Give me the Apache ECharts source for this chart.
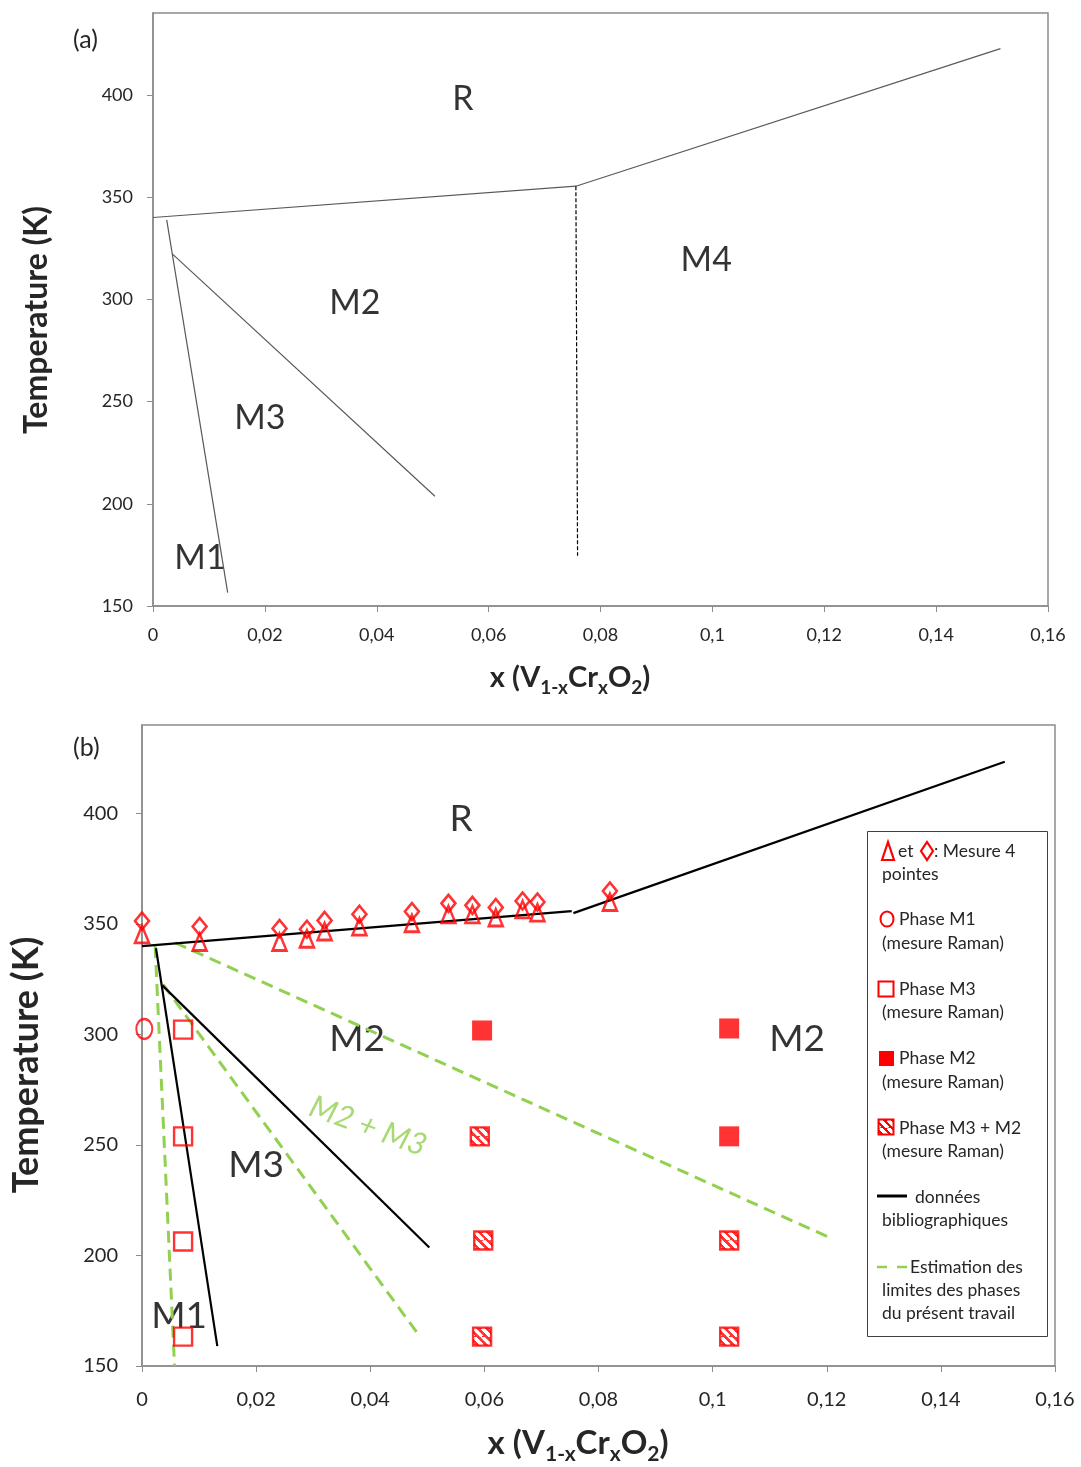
<!DOCTYPE html>
<html><head><meta charset="utf-8">
<script src="https://cdn.jsdelivr.net/npm/echarts@6/dist/echarts.min.js"></script>
<style>html,body{margin:0;padding:0;background:#fff}#c{width:1081px;height:1467px}</style>
</head><body><div id="c"></div>
<script>
// ---------------- data ----------------
const yTickValues = [150, 200, 250, 300, 350, 400];
const xTickStep = 0.02;

// Panel (a): literature phase boundaries
const aUpper = [[0, 340], [0.0756, 355.3], [0.1515, 422.6]];
const aM1M3 = [[0.00245, 338.8], [0.01335, 156.5]];
const aM3M2 = [[0.00345, 322.2], [0.0504, 203.7]];
const aM2M4 = [[0.0756, 355.3], [0.0759, 174.6]];

// Panel (b): literature boundaries
const bUpperLow = [[0, 340], [0.0753, 355.8]];
const bUpperHigh = [[0.0756, 354.9], [0.1512, 423.4]];
const bM1M3 = [[0.00245, 339], [0.0132, 159]];
const bM3M2 = [[0.00356, 322.2], [0.05035, 203.6]];
// Panel (b): phase limits estimated in this work
const estM1 = [[0.0023, 340], [0.0057, 150]];
const estM3 = [[0.0037, 322.6], [0.0487, 163.3]];
const estM2 = [[0.0058, 341.5], [0.1211, 207.4]];

// Panel (b): 4-point measurements
const fourPtX = [0, 0.0101, 0.0241, 0.0289, 0.0320, 0.0381, 0.0473, 0.0537, 0.0579, 0.0620, 0.0667, 0.0693, 0.0820];
const fourPtTriangle = [345.3, 341.8, 341.8, 343.3, 346.6, 348.8, 350.3, 354.3, 354.3, 352.9, 356.6, 355.1, 359.9];
const fourPtDiamond = [351.3, 348.8, 347.9, 347.6, 351.6, 354.4, 355.6, 359.3, 358.4, 357.4, 360.4, 359.9, 364.9];

// Panel (b): Raman measurements
const ramanM1 = [[0.0004, 302.5]];
const ramanM3 = [[0.0072, 302.2], [0.0072, 253.9], [0.0072, 206.3], [0.0072, 163.3]];
const ramanM2 = [[0.0596, 301.8], [0.1029, 302.7], [0.1029, 253.9]];
const ramanM3M2 = [[0.0592, 253.9], [0.0598, 206.8], [0.0596, 163.3], [0.1029, 206.8], [0.1029, 163.3]];

// Region annotations [text, x, T]
const regionsA = [['R', 0.0554, 398], ['M4', 0.0989, 319], ['M2', 0.0361, 298.4], ['M3', 0.0191, 241.8], ['M1', 0.0084, 173.4]];
const regionsB = [['R', 0.0559, 397.4], ['M2', 0.0377, 297.7], ['M2', 0.1148, 297.7], ['M3', 0.0200, 241], ['M1', 0.0065, 172.7]];
const mixLabelB = [['M2 + M3', 0.0396, 258.5]];

// ---------------- styles ----------------
const FONT = 'Lato, "Open Sans", sans-serif';
const RED = '#ff0000';
const GREEN = '#92d050';
const AXIS = '#8c8c8c';
const TXT = '#262626';

function hatchCanvas() {
  const n = 64;
  const c = document.createElement('canvas');
  c.width = n; c.height = n;
  const g = c.getContext('2d');
  g.fillStyle = RED; g.fillRect(0, 0, n, n);
  g.strokeStyle = '#ffffff'; g.lineWidth = 26;
  g.beginPath();
  for (const k of [-n, 0, n]) { g.moveTo(k, 0); g.lineTo(k + n, n); }
  g.stroke();
  return c;
}
const HC = hatchCanvas();
// symbols are drawn in a unit space scaled by symbolSize/2 (=9 here)
const HATCH_SYMBOL = { image: HC, repeat: 'repeat', scaleX: 8.5 / 64 / 9, scaleY: 8.5 / 64 / 9 };
const HATCH_PLAIN = { image: HC, repeat: 'repeat', scaleX: 8 / 64, scaleY: 8 / 64 };

const xFmt = v => String(+(+v).toFixed(2)).replace('.', ',');

function xAxisCfg(gi, fs, margin) {
  return {
    gridIndex: gi, type: 'value', min: 0, max: 0.16, interval: xTickStep,
    axisLine: { show: true, onZero: false, lineStyle: { color: AXIS, width: 1.5 } },
    axisTick: { show: true, length: 6, lineStyle: { color: AXIS, width: 1 } },
    splitLine: { show: false },
    axisLabel: { margin: margin, fontSize: fs, color: TXT, fontFamily: FONT, formatter: xFmt }
  };
}
function yAxisCfg(gi, fs, margin) {
  return {
    gridIndex: gi, type: 'value', min: 150, max: 440, interval: 50,
    axisLine: { show: true, onZero: false, lineStyle: { color: AXIS, width: 1.5 } },
    axisTick: { show: true, length: 6, lineStyle: { color: AXIS, width: 1 }, customValues: yTickValues },
    splitLine: { show: false },
    axisLabel: { margin: margin, fontSize: fs, color: TXT, fontFamily: FONT, customValues: yTickValues }
  };
}

function lineSeries(data, gi, color, width, type) {
  return {
    type: 'line', xAxisIndex: gi, yAxisIndex: gi, data: data,
    symbol: 'none', showSymbol: false, silent: true, z: 3,
    lineStyle: { color: color, width: width, type: type || 'solid', cap: 'butt' }
  };
}
function labelSeries(items, gi, fs, color, extra) {
  return {
    type: 'scatter', xAxisIndex: gi, yAxisIndex: gi, silent: true, z: 2,
    symbolSize: 1, itemStyle: { color: 'rgba(0,0,0,0)' },
    data: items.map(d => ({ name: d[0], value: [d[1], d[2]] })),
    label: Object.assign({ show: true, position: 'inside', formatter: p => p.name,
      fontSize: fs, color: color, fontFamily: FONT }, extra || {})
  };
}
function markerSeries(data, symbol, size, style, z) {
  return {
    type: 'scatter', xAxisIndex: 1, yAxisIndex: 1, data: data, silent: true,
    symbol: symbol, symbolSize: size, itemStyle: style, z: z || 5
  };
}
const hollow = w => ({ color: 'rgba(0,0,0,0)', borderColor: RED, borderWidth: w });

// axis titles
function xTitle(cx, cy, fs, sfs) {
  return {
    type: 'text', x: cx, y: cy,
    style: {
      text: '{n|x (V}{s|1-x}{n|Cr}{s|x}{n|O}{s|2}{n|)}',
      align: 'center', verticalAlign: 'middle',
      rich: {
        n: { fontSize: fs, fontWeight: 'bold', fontFamily: FONT, fill: TXT, lineHeight: fs + 5, verticalAlign: 'top' },
        s: { fontSize: sfs, fontWeight: 'bold', fontFamily: FONT, fill: TXT, verticalAlign: 'bottom' }
      }
    }
  };
}
function yTitle(cx, cy, fs) {
  return {
    type: 'text', x: cx, y: cy, rotation: Math.PI / 2,
    style: { text: 'Temperature (K)', fontSize: fs, fontWeight: 'bold', fontFamily: FONT, fill: TXT, align: 'center', verticalAlign: 'middle' }
  };
}

// ---------------- legend (panel b) ----------------
const LT = { fontSize: 17.5, fontFamily: FONT, fill: TXT, verticalAlign: 'middle', align: 'left' };
function ltext(x, y, s) { return { type: 'text', x: x, y: y, style: Object.assign({ text: s }, LT), z: 100 }; }
const legendEls = [
  { type: 'rect', shape: { x: 867.5, y: 831.5, width: 180, height: 505 }, style: { fill: '#fff', stroke: '#404040', lineWidth: 1 }, z: 99 },
  { type: 'polygon', shape: { points: [[882, 860], [888, 842], [894, 860]] }, style: { fill: 'none', stroke: RED, lineWidth: 2.2 }, z: 100 },
  ltext(898, 851, 'et'),
  { type: 'polygon', shape: { points: [[927, 842], [933, 851], [927, 860], [921, 851]] }, style: { fill: 'none', stroke: RED, lineWidth: 2.2 }, z: 100 },
  ltext(934, 851, ': Mesure 4'),
  ltext(882, 874, 'pointes'),
  { type: 'ellipse', shape: { cx: 887, cy: 919, rx: 6.5, ry: 7.5 }, style: { fill: 'none', stroke: RED, lineWidth: 2 }, z: 100 },
  ltext(899, 919, 'Phase M1'),
  ltext(882, 943, '(mesure Raman)'),
  { type: 'rect', shape: { x: 878.5, y: 981.5, width: 15, height: 15 }, style: { fill: 'none', stroke: RED, lineWidth: 2 }, z: 100 },
  ltext(899, 989, 'Phase M3'),
  ltext(882, 1012, '(mesure Raman)'),
  { type: 'rect', shape: { x: 879, y: 1051, width: 15, height: 15 }, style: { fill: RED }, z: 100 },
  ltext(899, 1058, 'Phase M2'),
  ltext(882, 1082, '(mesure Raman)'),
  { type: 'rect', shape: { x: 878.5, y: 1119.5, width: 15, height: 15 }, style: { fill: HATCH_PLAIN, stroke: RED, lineWidth: 2 }, z: 100 },
  ltext(899, 1128, 'Phase M3 + M2'),
  ltext(882, 1151, '(mesure Raman)'),
  { type: 'line', shape: { x1: 877, y1: 1196, x2: 907, y2: 1196 }, style: { stroke: '#000', lineWidth: 3 }, z: 100 },
  ltext(915, 1197, 'données'),
  ltext(882, 1220, 'bibliographiques'),
  { type: 'line', shape: { x1: 877, y1: 1267, x2: 907, y2: 1267 }, style: { stroke: GREEN, lineWidth: 2.5, lineDash: [10, 10] }, z: 100 },
  ltext(910, 1267, 'Estimation des'),
  ltext(882, 1290, 'limites des phases'),
  ltext(882, 1313, 'du présent travail')
];

// ---------------- chart ----------------
const chart = echarts.init(document.getElementById('c'), null, { renderer: 'canvas' });
chart.setOption({
  animation: false,
  backgroundColor: '#ffffff',
  grid: [
    { left: 153, top: 13, width: 895, height: 593, show: true, borderColor: AXIS, borderWidth: 1.5, backgroundColor: 'transparent' },
    { left: 142, top: 725, width: 913, height: 641, show: true, borderColor: AXIS, borderWidth: 1.5, backgroundColor: 'transparent' }
  ],
  xAxis: [xAxisCfg(0, 18, 20), xAxisCfg(1, 20, 24)],
  yAxis: [yAxisCfg(0, 18, 20), yAxisCfg(1, 20, 24)],
  graphic: [
    { type: 'text', x: 73, y: 40, style: { text: '(a)', fontSize: 25, fontFamily: FONT, fill: TXT, verticalAlign: 'middle' } },
    { type: 'text', x: 73, y: 748, style: { text: '(b)', fontSize: 25, fontFamily: FONT, fill: TXT, verticalAlign: 'middle' } },
    xTitle(570, 680, 29, 19),
    xTitle(578, 1446, 33, 21),
    yTitle(37, 320, 32),
    yTitle(26, 1065, 36)
  ].concat(legendEls),
  series: [
    lineSeries(aUpper, 0, '#595959', 1.2),
    lineSeries(aM1M3, 0, '#595959', 1.2),
    lineSeries(aM3M2, 0, '#595959', 1.2),
    lineSeries(aM2M4, 0, '#000000', 1.2, [4, 2]),
    labelSeries(regionsA, 0, 34, '#000'),

    lineSeries(estM1, 1, GREEN, 3, [12, 7]),
    lineSeries(estM3, 1, GREEN, 3, [12, 7]),
    lineSeries(estM2, 1, GREEN, 3, [12, 7]),
    lineSeries(bUpperLow, 1, '#000000', 2.2),
    lineSeries(bUpperHigh, 1, '#000000', 2.2),
    lineSeries(bM1M3, 1, '#000000', 2.2),
    lineSeries(bM3M2, 1, '#000000', 2.2),
    labelSeries(regionsB, 1, 37, '#000'),
    labelSeries(mixLabelB, 1, 31, GREEN, { rotate: -20, fontStyle: 'italic' }),

    markerSeries(fourPtX.map((x, i) => [x, fourPtTriangle[i]]), 'triangle', [14, 17], hollow(2.6), 6),
    markerSeries(fourPtX.map((x, i) => [x, fourPtDiamond[i]]), 'diamond', [14, 17], hollow(2.6), 7),
    markerSeries(ramanM1, 'circle', [16, 20], hollow(2.2)),
    markerSeries(ramanM3, 'rect', 18, hollow(2.4)),
    markerSeries(ramanM2, 'rect', 20, { color: RED }),
    markerSeries(ramanM3M2, 'rect', 18, { color: HATCH_SYMBOL, borderColor: RED, borderWidth: 2.4 })
  ]
});
</script></body></html>
